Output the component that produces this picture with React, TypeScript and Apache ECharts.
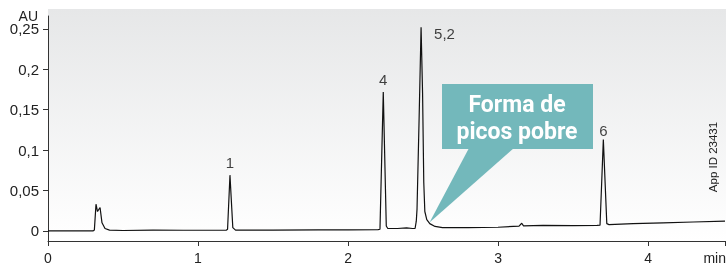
import React, { useEffect, useRef } from "react";
import * as echarts from "echarts";

// chromatogram trace: [time (min), absorbance (AU)]
const trace: [number, number][] = [
  [0, 0], [0.1, 0], [0.2, 0], [0.3, 0], [0.309, 0.001], [0.32, 0.033], [0.33, 0.024],
  [0.347, 0.029], [0.36, 0.01], [0.38, 0.003], [0.41, 0.001], [0.5, 0.0005],
  [0.7, 0.001], [0.9, 0.0008], [1.1, 0.0008], [1.19, 0.001], [1.197, 0.002],
  [1.213, 0.069], [1.232, 0.004], [1.25, 0.001], [1.5, 0.001], [1.8, 0.0012],
  [2.0, 0.0013], [2.2, 0.0015], [2.213, 0.002], [2.235, 0.172], [2.255, 0.006],
  [2.265, 0.003], [2.33, 0.003], [2.39, 0.0037], [2.43, 0.003], [2.447, 0.003],
  [2.455, 0.012], [2.46, 0.027], [2.474, 0.14], [2.487, 0.252], [2.497, 0.17],
  [2.505, 0.06], [2.512, 0.024], [2.525, 0.014], [2.545, 0.009], [2.58, 0.0055],
  [2.63, 0.004], [2.8, 0.004], [3.0, 0.0045], [3.14, 0.006], [3.158, 0.0095],
  [3.17, 0.0062], [3.3, 0.0068], [3.5, 0.0066], [3.66, 0.0068], [3.68, 0.007],
  [3.702, 0.113], [3.725, 0.009], [3.74, 0.0078], [3.9, 0.009], [4.1, 0.01],
  [4.3, 0.011], [4.513, 0.012],
];

// peak annotations
const peakNames = ["1", "4", "5,2", "6"];
const peakTimes = [1.213, 2.235, 2.487, 3.702];
const peakHeights = [0.069, 0.172, 0.252, 0.113];

// axes
const xTicks = [0, 1, 2, 3, 4];
const xEnd = 4.513;
const yTicks = [0, 0.05, 0.1, 0.15, 0.2, 0.25];
const yMin = -0.0125;
const yMax = 0.266;

const calloutLines = ["Forma de", "picos pobre"];
const appId = "App ID 23431";

export default function App() {
  const ref = useRef<HTMLDivElement>(null);
  useEffect(() => {
    if (!ref.current) return;
    const chart = echarts.init(ref.current, null, { renderer: "svg" });
    const font = "'Liberation Sans', Arial, Helvetica, sans-serif";
    const calloutFont = "bold 23px 'Liberation Sans Narrow', 'Roboto', sans-serif";
    const axisColor = "#333";
    const teal = "#73b8bb";
    chart.setOption({
      animation: false,
      grid: { left: 48, right: 1, top: 16, bottom: 24 },
      xAxis: {
        type: "value",
        min: 0,
        max: xEnd,
        axisLine: { onZero: false, lineStyle: { color: axisColor, width: 1 } },
        axisTick: {
          customValues: [...xTicks, xEnd],
          length: 5,
          lineStyle: { color: axisColor },
        },
        axisLabel: {
          customValues: xTicks,
          fontFamily: font,
          fontSize: 14,
          color: "#222",
          margin: 10,
        },
        splitLine: { show: false },
      },
      yAxis: {
        type: "value",
        min: yMin,
        max: yMax,
        axisLine: { show: true, lineStyle: { color: axisColor, width: 1 } },
        axisTick: {
          show: true,
          customValues: yTicks,
          length: 5,
          lineStyle: { color: axisColor },
        },
        axisLabel: {
          customValues: yTicks,
          fontFamily: font,
          fontSize: 15,
          color: "#222",
          margin: 9,
          formatter: (v: number) => String(Math.round(v * 100) / 100).replace(".", ","),
        },
        splitLine: { show: false },
      },
      series: [
        {
          type: "line",
          data: trace,
          showSymbol: false,
          symbol: "none",
          lineStyle: { color: "#111", width: 1.2 },
          z: 3,
        },
        {
          type: "scatter",
          symbolSize: 0,
          data: peakNames.map((n, i) => ({
            value: [peakTimes[i], peakHeights[i]],
            name: n,
            label:
              n === "5,2"
                ? { position: "right", offset: [8, 6] }
                : { position: "top", distance: n === "6" ? 2 : 5 },
          })),
          label: {
            show: true,
            formatter: (p: any) => p.name,
            fontFamily: font,
            fontSize: 15,
            color: "#111",
          },
          z: 4,
        },
      ],
      graphic: [
        {
          type: "rect",
          shape: { x: 48, y: 9, width: 678, height: 232 },
          style: {
            fill: new echarts.graphic.LinearGradient(0, 0, 0, 1, [
              { offset: 0, color: "#e6e7e8" },
              { offset: 1, color: "#ffffff" },
            ]),
          },
          z: -10,
          silent: true,
        },
        {
          type: "text",
          x: 38,
          y: 23,
          style: {
            text: "AU",
            font: `14px ${font}`,
            fill: "#222",
            textAlign: "right",
            textVerticalAlign: "bottom",
          },
        },
        {
          type: "text",
          x: 726,
          y: 258,
          style: {
            text: "min",
            font: `14px ${font}`,
            fill: "#222",
            textAlign: "right",
            textVerticalAlign: "middle",
          },
        },
        {
          type: "polygon",
          shape: { points: [[469, 148], [514, 148], [429.5, 222.5]] },
          style: { fill: teal },
          z: 5,
        },
        {
          type: "rect",
          shape: { x: 442, y: 84, width: 151, height: 65 },
          style: { fill: teal },
          z: 5,
        },
        {
          type: "text",
          x: 517,
          y: 104,
          style: {
            text: calloutLines[0],
            font: calloutFont,
            fill: "#fff",
            textAlign: "center",
            textVerticalAlign: "middle",
          },
          z: 6,
        },
        {
          type: "text",
          x: 517,
          y: 131,
          style: {
            text: calloutLines[1],
            font: calloutFont,
            fill: "#fff",
            textAlign: "center",
            textVerticalAlign: "middle",
          },
          z: 6,
        },
        {
          type: "text",
          x: 713,
          y: 157,
          rotation: Math.PI / 2,
          style: {
            text: appId,
            font: `11.5px ${font}`,
            fill: "#222",
            textAlign: "center",
            textVerticalAlign: "middle",
          },
          z: 6,
        },
      ],
    });
    return () => chart.dispose();
  }, []);
  return <div ref={ref} style={{ width: 726, height: 265, position: "fixed", left: 0, top: 0 }} />;
}
